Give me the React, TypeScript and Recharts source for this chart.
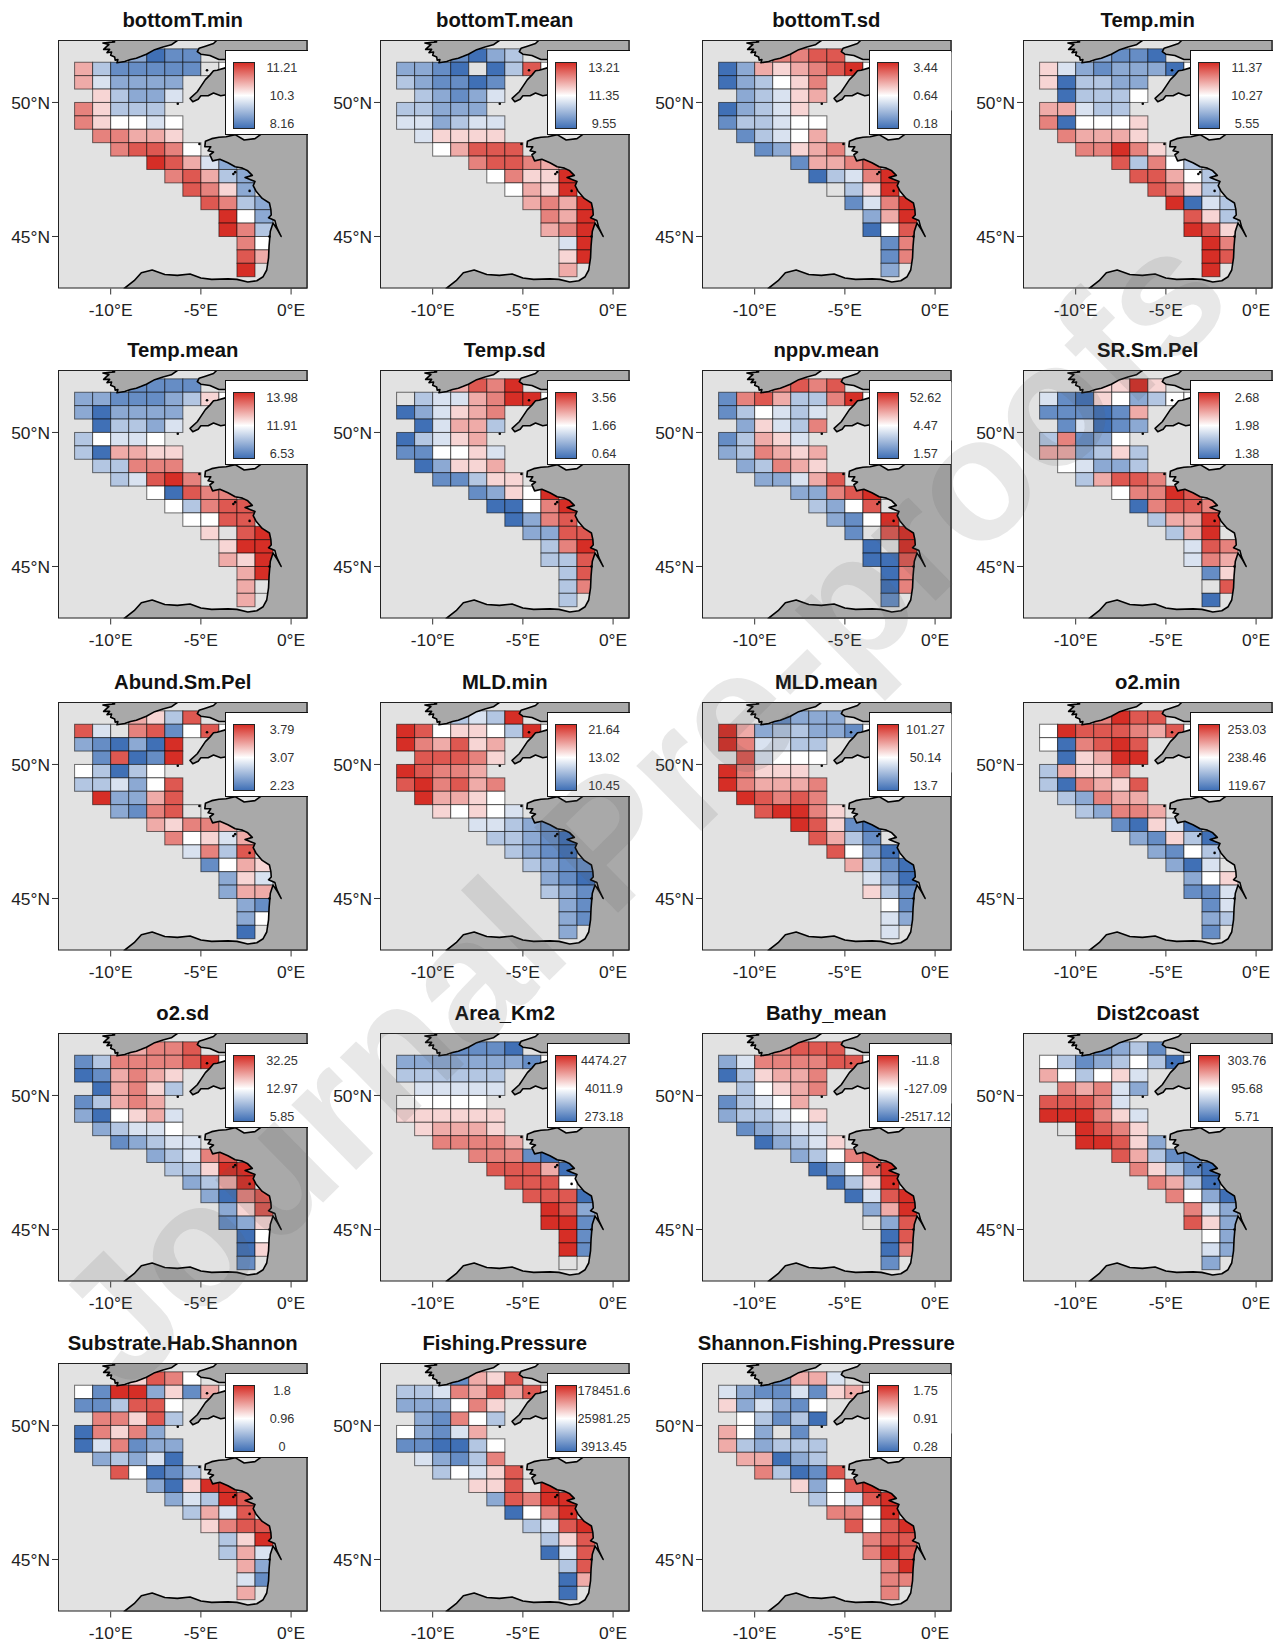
import React from 'react';
import { ScatterChart, Scatter, XAxis, YAxis } from 'recharts';

// ICES rectangles: 1 deg wide, 0.5 deg tall. rowLats = south edge, rowLons = west edges
const rowLats = [51.5, 51, 50.5, 50, 49.5, 49, 48.5, 48, 47.5, 47, 46.5, 46, 45.5, 45, 44.5, 44, 43.5];
const rowLons = [
    [-9, -8, -7, -6],
    [-12, -11, -10, -9, -8, -7, -6, -5, -4],
    [-12, -11, -10, -9, -8, -7],
    [-11, -10, -9, -8, -7],
    [-12, -11, -10, -9, -8],
    [-12, -11, -10, -9, -8, -7],
    [-11, -10, -9, -8, -7],
    [-10, -9, -8, -7, -6],
    [-8, -7, -6, -5, -4],
    [-7, -6, -5, -4, -3],
    [-6, -5, -4, -3],
    [-5, -4, -3, -2],
    [-4, -3, -2],
    [-4, -3, -2],
    [-3, -2],
    [-3, -2],
    [-3],
];

const n = null;

// colour level of each rectangle, -5 (low, blue) .. 0 (median, white) .. 5 (high, red)
const bottomTMin = [[-3, -5, -4, -4], [2, -2, -4, -4, -4, -4, -4, n, 0], [2, -1, -3, -3, -3, -3], [1, -2, -3, -3, -1], [3, 1, -2, -2, -2], [3, 1, 0, 0, -1, 0], [3, 3, 2, 2, 1], [3, 4, 4, 3, 0], [5, 4, 2, -1, -3], [3, 4, 2, -2, -3], [4, 3, 1, -3], [4, 3, -2, -3], [5, 0, -3], [5, 3, -2], [3, 0], [4, 2], [5]];
const bottomTMean = [[-4, -5, -3, -2], [-3, -3, -4, -5, n, -5, -2, 4, 0], [-2, -3, -4, -4, -5, -4], [-2, -3, -4, -3, -1], [-2, -2, -3, -3, -3], [-1, -1, -3, -2, -1, -1], [-1, 1, 1, 1, 1], [0, 2, 4, 4, 4], [3, 4, 4, 3, 2], [0, 3, 1, 1, 5], [0, 2, 1, 5], [2, 3, 2, 5], [3, 2, 5], [2, 3, 5], [-1, 5], [1, 5], [2]];
const bottomTSd = [[3, 3, 4, 4], [-5, -3, 2, 1, 2, 3, 4, 5, 0], [-5, -3, -2, 0, 1, 3], [-3, -2, -1, 1, 2], [-5, -3, -2, -1, 1], [-4, -2, -2, -1, 0, 0], [-4, -2, -1, 0, 2], [-4, -3, 1, 2, 3], [-4, 2, 2, 3, 4], [-5, -2, -1, 3, 5], [n, -2, 1, 5], [-4, -1, 3, 5], [-3, 2, 5], [-5, 0, 4], [-4, 3], [-4, 3], [-3]];
const tempMin = [[-3, -4, -4, -5], [1, -1, -3, -4, -3, -3, -3, -5, 0], [1, -5, -2, -2, -3, -3], [-5, -2, -2, -2, 0], [2, 2, -1, -2, -2], [3, -5, 0, 0, 0, 1], [3, 2, 2, 2, 1], [3, 3, 5, 3, 1], [4, -2, 3, 0, -2], [4, 4, 2, 0, -2], [4, 3, 1, -2], [5, -5, -1, -2], [4, 1, -2], [5, 4, 1], [5, 3], [5, 4], [5]];
const tempMean = [[-4, -4, -4, -4], [-3, -3, -4, -4, -4, -3, -2, 1, 0], [-3, -5, -3, -3, -3, -3], [-5, -2, -2, -3, -1], [-2, 0, -1, -1, 0], [-2, -5, 2, 2, 1, 1], [-2, -2, 3, 3, 3], [-2, -1, 4, 5, 3], [0, -5, 4, 3, 3], [0, -2, 3, 4, 4], [0, 0, 4, 4], [1, n, 4, 5], [1, 5, 5], [2, 1, 5], [2, 5], [2, n], [2]];
const tempSd = [[2, 4, 3, 5], [n, -2, -1, -1, 2, 3, 5, 5, 0], [-5, -3, -1, 1, 2, 3], [-5, -1, 2, 2, -2], [-5, -2, -1, 1, 2], [-4, -4, 0, 0, 1, -1], [-5, -3, 1, 1, 2], [-4, -4, -2, 1, 1], [-4, -3, 1, 0, 5], [-5, -5, 0, 3, 5], [-5, -3, 3, 4], [-3, -3, 4, 4], [-2, 3, 5], [-2, -2, 4], [-2, 4], [-2, 3], [-2]];
const nppvMean = [[3, 4, 3, 4], [-4, 3, 4, 2, -2, -2, 3, 5, 0], [-4, -2, 0, -1, -2, -1], [-3, 1, -1, -2, 3], [-4, -2, 2, 1, -1], [-3, -2, 3, 2, 1, 2], [-3, -2, 3, 2, 1], [-3, -3, -1, 2, 4], [-3, -3, 3, 4, 5], [-2, -3, 0, 4, n], [-3, -4, 0, 5], [-4, n, 4, 5], [-5, n, 5], [-5, -5, 4], [-5, 3], [-5, 3], [-4]];
const srSmPel = [[1, 1, 5, 1], [-1, -4, -5, 1, 0, -3, -2, 0, 0], [-4, -4, -4, -5, -4, 2], [-4, -1, -5, -4, -3], [-2, 3, -4, -3, 0], [2, 2, -3, -2, 1, -2], [0, -1, -3, -3, -2], [-2, 2, 4, 4, 3], [0, 3, 3, 5, 4], [-5, 3, 4, 4, 3], [-2, 2, 2, 5], [-2, 2, 5, n], [-1, 4, 3], [-1, 3, 2], [-4, 1], [n, 4], [-5]];
const abundSmPel = [[2, 1, -2, 4], [4, -1, n, 3, 4, -4, 0, 4, 0], [-3, -4, -5, -3, -5, 5], [-4, 4, -5, -4, 5], [0, -2, -5, -2, 0], [-2, -2, -1, -3, 0, 4], [5, -3, -3, 2, 4], [-3, -4, 3, 4, n], [2, 1, 3, 3, 2], [3, 0, 1, -1, 2], [-1, 3, -2, 4], [-4, 0, 2, 1], [-3, 1, -1], [-3, 2, 2], [-3, -4], [-3, 0], [-5]];
const mldMin = [[-2, -1, -2, 5], [5, 4, 0, 1, 1, 0, -2, 5, 0], [5, 3, 2, 4, 1, 2], [4, 4, 4, 3, 1], [5, 4, 3, 3, 2], [4, 5, 3, 4, 2, 3], [5, 2, 2, 1, 0], [1, 0, 1, 0, -1], [-1, -1, -2, -3, -4], [-2, -2, -3, -4, -5], [-2, -3, -4, -5], [-2, -3, -4, -4], [-3, -4, -5], [-2, -3, -4], [-3, -4], [-3, -4], [-3]];
const mldMean = [[-4, -3, -3, -3], [5, 2, -3, -2, -2, -3, -3, -4, 0], [5, 3, -1, -1, -2, -2], [4, -1, 0, 0, 0], [5, 3, 1, 1, 1], [5, 3, 2, 2, 2, 3], [5, 4, 3, 4, 3], [4, 5, 5, 3, 1], [5, 4, 1, -4, -5], [4, 2, -2, -4, n], [4, 0, -3, -5], [2, -2, -4, -5], [-1, -3, -5], [1, -2, -4], [0, -4], [-1, -3], [-1]];
const o2Min = [[3, 5, 4, 4], [0, 5, 4, 4, 4, 3, 2, 4, 0], [0, -5, 3, 4, 5, 4], [-5, 1, 2, 5, 5], [-2, 2, 1, 1, 3], [-2, -5, 3, 2, 1, 4], [-2, -3, 3, 2, 2], [-2, -3, 3, 3, 2], [-4, -5, 1, -1, -5], [-3, -4, 1, -2, -5], [-3, -4, 0, -2], [-3, -5, -1, n], [-3, 0, 1], [-4, -4, -1], [-4, -1], [-3, -2], [-4]];
const o2Sd = [[2, 3, 3, 4], [-4, -2, 3, 3, 3, 3, 4, 5, 0], [-5, -4, 2, 3, 2, 1], [-5, 2, 3, 1, -2], [-4, -2, 2, 3, 2], [-3, -5, 0, 1, 2, -1], [-3, -2, -1, -1, 0], [-4, -3, -2, -1, -1], [-3, -2, -1, 3, 4], [-2, -2, 1, 5, 5], [-3, -2, 2, 5], [-3, -5, 3, 4], [-3, 1, 4], [-4, -3, 1], [-5, 0], [-5, 1], [-4]];
const areaKm2 = [[-4, -4, -4, -5], [-3, -3, -3, -3, -3, -3, -3, -4, 0], [-2, -2, -2, -2, -2, -2], [-1, -1, -1, -1, -1], [0, 0, 0, 0, 0], [1, 1, 1, 1, 1, 1], [1, 2, 2, 2, 1], [3, 3, 3, 3, 2], [3, 3, 3, -4, -5], [4, 4, 4, 2, -5], [4, 4, 4, 0], [4, 4, 4, -5], [5, 4, -3], [5, 5, -4], [5, -4], [5, -4], [n]];
const bathyMean = [[3, 4, 4, 4], [-3, -1, 3, 3, 3, 3, 4, 4, 0], [-5, -2, 1, 2, 2, 3], [-2, 0, 1, 2, 3], [-4, -2, -1, 0, 2], [-3, -2, -2, -1, 0, 1], [-4, -3, -2, -1, -1], [-5, -3, -2, -1, 1], [-3, -2, 0, 3, 4], [-5, -3, 0, 3, 5], [-5, -2, 1, 5], [-5, -1, 4, 5], [-3, 2, 5], [n, -3, 4], [-5, 4], [-5, 3], [-4]];
const dist2coast = [[-4, -3, -2, -4], [0, -2, -4, -3, -2, 0, -2, -5, 0], [2, 0, -2, 0, 1, -1], [3, 2, 3, -1, -3], [4, 4, 4, 3, -1], [5, 5, 5, 3, 1, -1], [n, 5, 4, 3, 1], [5, 5, 4, 1, -3], [4, 2, -2, -4, -4], [3, 1, -2, -4, -5], [3, 2, -2, -5], [3, 0, -3, -5], [3, -1, -3], [4, 1, -3], [0, -3], [-1, -3], [-3]];
const substrateHab = [[1, 4, 3, 0], [0, -4, 5, 5, -3, 1, -4, 2, 0], [-4, -4, -2, 4, 4, 0], [3, 3, 1, 4, -2], [-5, 3, 1, 3, -3], [-5, -1, 3, -4, -3, -3], [-3, -2, -3, -1, -5], [4, 0, -5, -4, -2], [-3, -5, 1, 5, 5], [-3, -1, -2, 5, 4], [-2, 2, -1, 4], [1, 3, 4, 4], [-2, 1, 5], [-2, 2, -1], [2, -3], [-1, -4], [2]];
const fishingPressure = [[-4, 2, 1, 4], [-2, -2, -1, 3, 2, 4, 2, 4, 0], [-3, -3, -3, 0, 3, 1], [-3, -4, 3, 0, -2], [0, -3, -4, -1, 2], [-4, -4, -5, -5, -2, 0], [-1, -3, -4, -2, 3], [-2, 0, -1, 1, 4], [1, 1, 4, n, 5], [-3, 4, 3, 5, 5], [-5, 0, 3, 5], [-2, -1, 4, 5], [-2, 1, 4], [-5, -1, 4], [-2, 4], [-5, 2], [-5]];
const shannonFishing = [[-4, 2, 2, -1], [-1, -3, -4, -4, -1, -4, 1, 2, 0], [1, -3, -1, -3, -4, 0], [0, -2, -4, -2, -5], [2, 0, -3, n, -4], [2, -2, -3, -2, -2, -2], [2, 2, -5, -3, -2], [3, -2, -5, -4, 4], [1, -3, 0, 4, 5], [-2, 0, -1, 4, 5], [3, 3, 0, 5], [4, 0, 4, 5], [3, 4, 4], [3, 5, 4], [3, 5], [3, 3], [3]];

const panelTitles = ['bottomT.min', 'bottomT.mean', 'bottomT.sd', 'Temp.min', 'Temp.mean', 'Temp.sd', 'nppv.mean', 'SR.Sm.Pel', 'Abund.Sm.Pel', 'MLD.min', 'MLD.mean', 'o2.min', 'o2.sd', 'Area_Km2', 'Bathy_mean', 'Dist2coast', 'Substrate.Hab.Shannon', 'Fishing.Pressure', 'Shannon.Fishing.Pressure'];
const panelValues = [bottomTMin, bottomTMean, bottomTSd, tempMin, tempMean, tempSd, nppvMean, srSmPel, abundSmPel, mldMin, mldMean, o2Min, o2Sd, areaKm2, bathyMean, dist2coast, substrateHab, fishingPressure, shannonFishing];
const legendLabels = [
    ['11.21', '10.3', '8.16'], ['13.21', '11.35', '9.55'], ['3.44', '0.64', '0.18'], ['11.37', '10.27', '5.55'],
    ['13.98', '11.91', '6.53'], ['3.56', '1.66', '0.64'], ['52.62', '4.47', '1.57'], ['2.68', '1.98', '1.38'],
    ['3.79', '3.07', '2.23'], ['21.64', '13.02', '10.45'], ['101.27', '50.14', '13.7'], ['253.03', '238.46', '119.67'],
    ['32.25', '12.97', '5.85'], ['4474.27', '4011.9', '273.18'], ['-11.8', '-127.09', '-2517.12'], ['303.76', '95.68', '5.71'],
    ['1.8', '0.96', '0'], ['178451.6', '25981.25', '3913.45'], ['1.75', '0.91', '0.28'],
];

// coastlines as [lon, lat]
const irelandCoast = [[-9.96, 52.33], [-9.78, 52.26], [-10.43, 52.22], [-10.1, 52.16], [-10.2, 52.1], [-10.39, 51.98], [-10.06, 51.98], [-10.2, 51.86], [-9.95, 51.88], [-10.0, 51.76], [-9.78, 51.7], [-9.75, 51.58], [-9.6, 51.6], [-9.65, 51.48], [-9.22, 51.53], [-8.9, 51.6], [-8.58, 51.65], [-8.3, 51.72], [-8.02, 51.8], [-7.56, 51.97], [-7.1, 52.07], [-6.64, 52.15], [-6.27, 52.33]];
const walesCoast = [[-4.1, 52.33], [-4.3, 52.2], [-4.75, 52.1], [-5.1, 52.02], [-5.2, 51.9], [-5.0, 51.8], [-4.5, 51.75], [-4.0, 51.6], [-3.6, 51.6], [-3.6, 51.9], [0.91, 51.9], [0.91, 52.33]];
const cornwallCoast = [[-3.6, 51.3], [-4.1, 51.2], [-4.3, 51.18], [-4.5, 51.02], [-4.75, 50.85], [-5.0, 50.6], [-5.2, 50.4], [-5.6, 50.15], [-5.45, 50.03], [-5.15, 50.12], [-5.0, 50.25], [-4.6, 50.25], [-4.3, 50.35], [-3.9, 50.25], [-3.5, 50.3], [-3.5, 51.3]];
const franceCoast = [[-1.1, 49.7], [-1.1, 49.4], [-1.55, 49.3], [-1.6, 48.85], [-2.0, 48.65], [-2.6, 48.6], [-3.1, 48.8], [-3.6, 48.72], [-4.0, 48.7], [-4.4, 48.65], [-4.75, 48.55], [-4.78, 48.35], [-4.45, 48.35], [-4.6, 48.2], [-4.3, 48.15], [-4.5, 48.05], [-4.35, 47.82], [-3.95, 47.88], [-3.5, 47.75], [-3.1, 47.6], [-2.7, 47.55], [-2.4, 47.45], [-2.15, 47.28], [-2.55, 47.2], [-2.0, 47.05], [-2.1, 46.9], [-1.95, 46.7], [-1.6, 46.42], [-1.2, 46.25], [-1.12, 46.0], [-1.1, 45.8], [-1.25, 45.7], [-0.9, 45.6], [-0.8, 45.35], [-0.55, 45.0], [-0.75, 45.25], [-1.0, 45.5], [-1.15, 45.2], [-1.22, 44.65], [-1.25, 44.2], [-1.35, 43.75], [-1.55, 43.5], [-1.9, 43.35], [-2.4, 43.3], [-3.0, 43.4], [-3.5, 43.42], [-4.4, 43.4], [-5.0, 43.45], [-5.6, 43.6], [-6.3, 43.55], [-7.0, 43.58], [-7.7, 43.75], [-8.3, 43.65], [-8.7, 43.35], [-9.25, 43.06], [0.91, 43.06], [0.91, 49.7]];
const islandDots = [[-4.66, 51.2], [-6.28, 49.95], [-5.08, 48.45], [-3.2, 47.33], [-2.3, 46.7], [-1.2, 45.0], [-3.1, 47.4]];

const LON_MIN = -12.92;
const LON_MAX = 0.91;
const LAT_MIN = 43.06;
const LAT_MAX = 52.33;

const PLOT_W = 249.5;
const PLOT_H = 248.5;
const COL_X = [58, 380, 701.5, 1023];
const ROW_Y = [40, 370, 701.5, 1032.5, 1363];
const MARGIN_L = 58;
const MARGIN_T = 40;

const LAND = '#a9a9a9';
const SEA = '#e2e2e2';
const HIGH = [214, 46, 38];
const LOW = [64, 112, 182];

const toPoints = (coords: number[][]) => coords.map(([lon, lat]) => ({ lon, lat }));
const closeRing = [[LON_MIN, LAT_MIN], [LON_MAX, LAT_MIN], [LON_MAX, LAT_MAX], [LON_MIN, LAT_MAX], [LON_MIN, LAT_MIN]];

const levelColor = (level: number | null) => {
    if (level === null) return SEA;
    const end = level > 0 ? HIGH : LOW;
    const t = Math.abs(level) / 5;
    const c = end.map(e => Math.round(255 + (e - 255) * t));
    return `rgb(${c[0]},${c[1]},${c[2]})`;
};

const buildCells = (values: (number | null)[][]) =>
    rowLons.flatMap((lons, r) => lons.map((lon, c) => ({
        lon: lon + 0.5,
        lat: rowLats[r] + 0.25,
        level: values[r][c],
    })));

const cellW = PLOT_W / (LON_MAX - LON_MIN);
const cellH = (PLOT_H / (LAT_MAX - LAT_MIN)) * 0.5;

const CellShape = (props: any) => (
    <rect
        x={props.cx - cellW / 2}
        y={props.cy - cellH / 2}
        width={cellW}
        height={cellH}
        fill={levelColor(props.payload.level)}
        stroke="rgba(0,0,0,0.55)"
        strokeWidth={1}
    />
);
const NoShape = () => <g />;
const DotShape = (props: any) => <circle cx={props.cx} cy={props.cy} r={1.3} fill="#000" />;

const tickStyle = { fontSize: 17.4, fill: '#222', fontFamily: '"Liberation Sans", Arial, sans-serif' };

const ChartPanel: React.FC<{ index: number }> = ({ index }) => {
    const left = COL_X[index % 4] - MARGIN_L;
    const top = ROW_Y[Math.floor(index / 4)] - MARGIN_T;
    const labels = legendLabels[index];
    const landLine = { fill: LAND, stroke: '#000', strokeWidth: 1.6, strokeLinejoin: 'round' as const };
    return (
        <div style={{ position: 'absolute', left, top, width: MARGIN_L + PLOT_W + 6, height: 330 }}>
            <div style={{ position: 'absolute', left: MARGIN_L - 40, width: PLOT_W + 80, top: 8, textAlign: 'center', fontFamily: '"Liberation Sans", Arial, sans-serif', fontWeight: 700, fontSize: 20.3, lineHeight: '24px', color: '#111', whiteSpace: 'nowrap' }}>
                {panelTitles[index]}
            </div>
            <ScatterChart width={MARGIN_L + PLOT_W + 6} height={330} margin={{ top: MARGIN_T, right: 6, left: 0, bottom: 330 - MARGIN_T - PLOT_H - 40 }}>
                <XAxis type="number" dataKey="lon" domain={[LON_MIN, LON_MAX]} ticks={[-10, -5, 0]} interval={0} tickFormatter={(v: number) => `${v}°E`} axisLine={false} tickLine={{ stroke: '#333' }} tickSize={6} tickMargin={9} tick={tickStyle} height={40} allowDataOverflow />
                <YAxis type="number" dataKey="lat" domain={[LAT_MIN, LAT_MAX]} ticks={[45, 50]} interval={0} tickFormatter={(v: number) => `${v}°N`} axisLine={false} tickLine={{ stroke: '#333' }} tickSize={6} tick={tickStyle} width={MARGIN_L} allowDataOverflow />
                <Scatter data={toPoints(closeRing)} shape={NoShape} line={{ fill: SEA, stroke: 'none' }} isAnimationActive={false} />
                <Scatter data={buildCells(panelValues[index])} shape={CellShape} isAnimationActive={false} />
                <Scatter data={toPoints(irelandCoast)} shape={NoShape} line={landLine} isAnimationActive={false} />
                <Scatter data={toPoints(walesCoast)} shape={NoShape} line={landLine} isAnimationActive={false} />
                <Scatter data={toPoints(cornwallCoast)} shape={NoShape} line={landLine} isAnimationActive={false} />
                <Scatter data={toPoints(franceCoast)} shape={NoShape} line={landLine} isAnimationActive={false} />
                <Scatter data={toPoints(islandDots)} shape={DotShape} isAnimationActive={false} />
                <Scatter data={toPoints(closeRing)} shape={NoShape} line={{ fill: 'none', stroke: '#222', strokeWidth: 2 }} isAnimationActive={false} />
            </ScatterChart>
            <div style={{ position: 'absolute', left: MARGIN_L + 167, top: MARGIN_T + 10, width: PLOT_W - 167, height: 85, boxSizing: 'border-box', background: '#fff', border: '1.5px solid #111', borderRight: 'none', overflow: 'hidden', fontFamily: '"Liberation Sans", Arial, sans-serif' }}>
                <div style={{ position: 'absolute', left: 7, top: 11, width: 22, height: 67, boxSizing: 'border-box', border: '1px solid #222', background: `linear-gradient(to top, rgb(${LOW.join(',')}), #fff 50%, rgb(${HIGH.join(',')}))` }} />
                {labels.map((label, i) => (
                    <div key={i} style={{ position: 'absolute', left: 56, top: 9 + i * 28, transform: 'translateX(-50%)', fontSize: 12.7, lineHeight: '16px', color: '#333', whiteSpace: 'nowrap' }}>
                        {label}
                    </div>
                ))}
            </div>
        </div>
    );
};

const App: React.FC = () => (
    <div style={{ position: 'absolute', left: 0, top: 0, width: 1279, height: 1644, overflow: 'hidden', background: '#fff' }}>
        {panelTitles.map((_, i) => <ChartPanel key={i} index={i} />)}
        <div style={{ position: 'absolute', left: 640, top: 807, transform: 'translate(-50%, -50%) rotate(-44.5deg)', fontFamily: '"Liberation Sans", Arial, sans-serif', fontWeight: 700, fontSize: 174, lineHeight: 1, color: 'rgba(90,90,90,0.14)', whiteSpace: 'nowrap', pointerEvents: 'none' }}>
            Journal Pre-proofs
        </div>
    </div>
);

export default App;
